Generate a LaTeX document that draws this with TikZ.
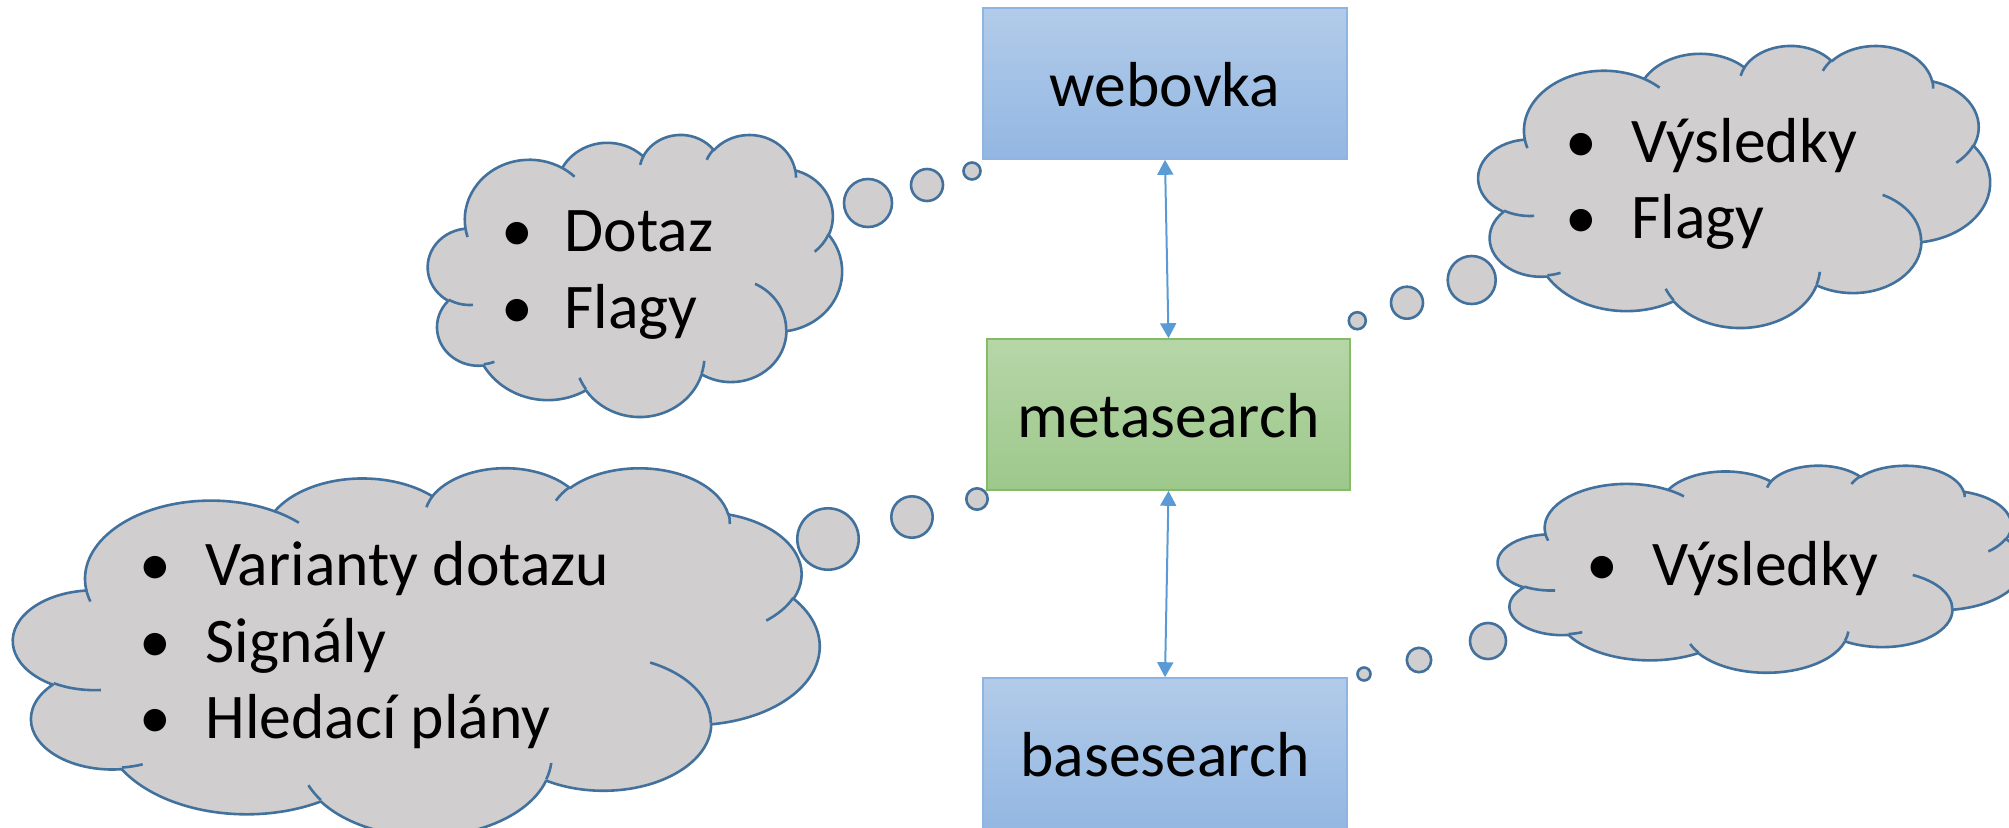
\documentclass[tikz,border=0pt]{standalone}
\usepackage{fontspec}
\setmainfont{Carlito}
\usetikzlibrary{arrows.meta}

\definecolor{boxtop}{HTML}{B2CBE9}
\definecolor{boxbot}{HTML}{93B7E2}
\definecolor{boxline}{HTML}{8EB4E3}
\definecolor{gtop}{HTML}{B6D6A8}
\definecolor{gbot}{HTML}{9DC88B}
\definecolor{gline}{HTML}{84BB66}
\definecolor{cfill}{HTML}{D0CECE}
\definecolor{cline}{HTML}{41719C}
\definecolor{arrcol}{HTML}{5B9BD5}

% convert OOXML visual angles to parametric angles
\newcommand\defarc[5]{%
  \pgfmathsetmacro\tmpA{atan2((#2)*sin(#4),(#3)*cos(#4))}%
  \pgfmathsetmacro\tmpB{atan2((#2)*sin((#4)+(#5)),(#3)*cos((#4)+(#5)))}%
  \pgfmathsetmacro\tmpD{\tmpB-\tmpA}%
  \pgfmathsetmacro\tmpD{\tmpD+360*round(((#5)-(\tmpD))/360)}%
  \expandafter\xdef\csname cls#1\endcsname{\tmpA}%
  \expandafter\xdef\csname cld#1\endcsname{\tmpD}%
}
\defarc{A}{67.53}{91.90}{-190.48748}{123.78053}
\defarc{B}{53.33}{72.67}{-144.10238}{89.94523}
\defarc{C}{43.65}{59.45}{-145.80792}{99.72302}
\defarc{D}{48.57}{65.95}{-130.98607}{117.24173}
\defarc{E}{53.33}{72.73}{-78.70888}{109.02692}
\defarc{F}{67.75}{92.20}{-46.26725}{130.269}
\defarc{G}{57.85}{78.67}{0.62502}{114.03333}
\defarc{H}{67.52}{92.15}{22.4516}{115.17255}
\defarc{I}{77.20}{105.43}{66.24263}{75.71102}
\defarc{J}{43.60}{59.18}{-274.94208}{146.73557}
\defarc{K}{43.45}{59.45}{-246.8285}{152.51885}
\defarc{a}{43.45}{59.45}{86.742}{26.4295}
\defarc{b}{43.60}{59.18}{73.61047}{11.44747}
\defarc{c}{67.52}{92.15}{137.62415}{14.0811}
\defarc{d}{67.52}{92.15}{6.45327}{15.99835}
\defarc{e}{57.85}{78.67}{-70.29235}{70.91737}
\defarc{f}{53.33}{72.73}{30.31803}{27.7515}
\defarc{g}{48.57}{65.95}{-13.74433}{14.8589}
\defarc{h}{48.57}{65.95}{-149.18145}{18.19537}
\defarc{i}{43.65}{59.45}{-163.49427}{17.68635}
\defarc{j}{67.53}{91.90}{-66.70695}{12.31935}
\defarc{k}{67.53}{91.90}{157.65435}{11.85817}

\newcommand\drawcloud[4]{%
 \begin{scope}[shift={(#1,#2)},xscale=#3/432,yscale=#4/432]
  \path[cloudshape] (39,143.7)
   arc[start angle=\clsA,delta angle=\cldA,x radius=67.53,y radius=91.90]
   arc[start angle=\clsB,delta angle=\cldB,x radius=53.33,y radius=72.67]
   arc[start angle=\clsC,delta angle=\cldC,x radius=43.65,y radius=59.45]
   arc[start angle=\clsD,delta angle=\cldD,x radius=48.57,y radius=65.95]
   arc[start angle=\clsE,delta angle=\cldE,x radius=53.33,y radius=72.73]
   arc[start angle=\clsF,delta angle=\cldF,x radius=67.75,y radius=92.20]
   arc[start angle=\clsG,delta angle=\cldG,x radius=57.85,y radius=78.67]
   arc[start angle=\clsH,delta angle=\cldH,x radius=67.52,y radius=92.15]
   arc[start angle=\clsI,delta angle=\cldI,x radius=77.20,y radius=105.43]
   arc[start angle=\clsJ,delta angle=\cldJ,x radius=43.60,y radius=59.18]
   arc[start angle=\clsK,delta angle=\cldK,x radius=43.45,y radius=59.45]
   -- cycle;
  \draw[cloudedge]
   (46.93,261.77) arc[start angle=\clsa,delta angle=\clda,x radius=43.45,y radius=59.45]
   (69.28,348.99) arc[start angle=\clsb,delta angle=\cldb,x radius=43.60,y radius=59.18]
   (164.78,390.90) arc[start angle=\clsc,delta angle=\cldc,x radius=67.52,y radius=92.15]
   (288.27,347.51) arc[start angle=\clsd,delta angle=\cldd,x radius=67.52,y radius=92.15]
   (341.29,229.54) arc[start angle=\clse,delta angle=\clde,x radius=57.85,y radius=78.67]
   (417.98,153.54) arc[start angle=\clsf,delta angle=\cldf,x radius=53.33,y radius=72.73]
   (383.24,54.26) arc[start angle=\clsg,delta angle=\cldg,x radius=48.57,y radius=65.95]
   (290.78,39.52) arc[start angle=\clsh,delta angle=\cldh,x radius=48.57,y radius=65.95]
   (221.41,47.20) arc[start angle=\clsi,delta angle=\cldi,x radius=43.65,y radius=59.45]
   (140.00,51.92) arc[start angle=\clsj,delta angle=\cldj,x radius=67.53,y radius=91.90]
   (41.27,157.89) arc[start angle=\clsk,delta angle=\cldk,x radius=67.53,y radius=91.90];
 \end{scope}}

\begin{document}
\begin{tikzpicture}[x=0.5pt,y=-0.5pt,
  cloudshape/.style={fill=cfill,draw=cline,line width=1.3pt,line join=round},
  cloudedge/.style={draw=cline,line width=1.3pt,line cap=butt},
  bubble/.style={circle,fill=cfill,draw=cline,line width=1.3pt,inner sep=0pt},
  txt/.style={font=\fontsize{31.8}{38}\selectfont,inner sep=0pt},
  bul/.style={txt,anchor=base},
  line/.style={txt,anchor=base west},
  boxnode/.style={rectangle,line width=0.8pt,inner sep=0pt,
    font=\fontsize{31.8}{38}\selectfont,text height=22.5pt,text depth=0pt,
    minimum height=75.5pt},
  bluebox/.style={boxnode,top color=boxtop,bottom color=boxbot,draw=boxline},
  greenbox/.style={boxnode,top color=gtop,bottom color=gbot,draw=gline},
  arr/.style={draw=arrcol,line width=1pt,
    {Triangle[width=8pt,length=7.5pt]}-{Triangle[width=8pt,length=7.5pt]}}
]
\useasboundingbox (0,0) rectangle (2009,827);
\clip (0,0) rectangle (2009,827);

% clouds
\drawcloud{428}{134}{414}{282}
\drawcloud{13.4}{467}{806}{368}
\drawcloud{1478.5}{45}{511.5}{282}
\drawcloud{1498}{465}{525}{207}

% bubbles
\node[bubble,minimum size=24pt] (b1a) at (868,203) {};
\node[bubble,minimum size=16pt] (b1b) at (927,185) {};
\node[bubble,minimum size=8.5pt] (b1c) at (972,171) {};
\node[bubble,minimum size=30.7pt] (b2a) at (828,539) {};
\node[bubble,minimum size=20.7pt] (b2b) at (912,517) {};
\node[bubble,minimum size=10.7pt] (b2c) at (977,499) {};
\node[bubble,minimum size=24pt] (b3a) at (1471.7,280) {};
\node[bubble,minimum size=16pt] (b3b) at (1407,302.7) {};
\node[bubble,minimum size=8.5pt] (b3c) at (1357.3,320.7) {};
\node[bubble,minimum size=18pt] (b4a) at (1488,641) {};
\node[bubble,minimum size=12.2pt] (b4b) at (1419,660) {};
\node[bubble,minimum size=6.5pt] (b4c) at (1364,674) {};

% cloud texts
\node[bul] (c1u1) at (517,251) {•};
\node[line] (c1t1) at (564,251) {Dotaz};
\node[bul] (c1u2) at (517,328) {•};
\node[line] (c1t2) at (564,328) {Flagy};

\node[bul] (c2u1) at (155,585) {•};
\node[line] (c2t1) at (205,585) {Varianty dotazu};
\node[bul] (c2u2) at (155,662) {•};
\node[line] (c2t2) at (205,662) {Signály};
\node[bul] (c2u3) at (155,738) {•};
\node[line] (c2t3) at (205,738) {Hledací plány};

\node[bul] (c3u1) at (1581,162) {•};
\node[line] (c3t1) at (1631,162) {Výsledky};
\node[bul] (c3u2) at (1581,238) {•};
\node[line] (c3t2) at (1631,238) {Flagy};

\node[bul] (c4u1) at (1602,585) {•};
\node[line] (c4t1) at (1652,585) {Výsledky};

% boxes
\node[bluebox,minimum width=182pt] (web) at (1165,83.5) {webovka};
\node[greenbox,minimum width=181.5pt] (meta) at (1168.5,414.5) {metasearch};
\node[bluebox,minimum width=182pt] (base) at (1165,753.5) {basesearch};

% connectors
\draw[arr] (web.south) -- (meta.north);
\draw[arr] (meta.south) -- (base.north);
\end{tikzpicture}
\end{document}
